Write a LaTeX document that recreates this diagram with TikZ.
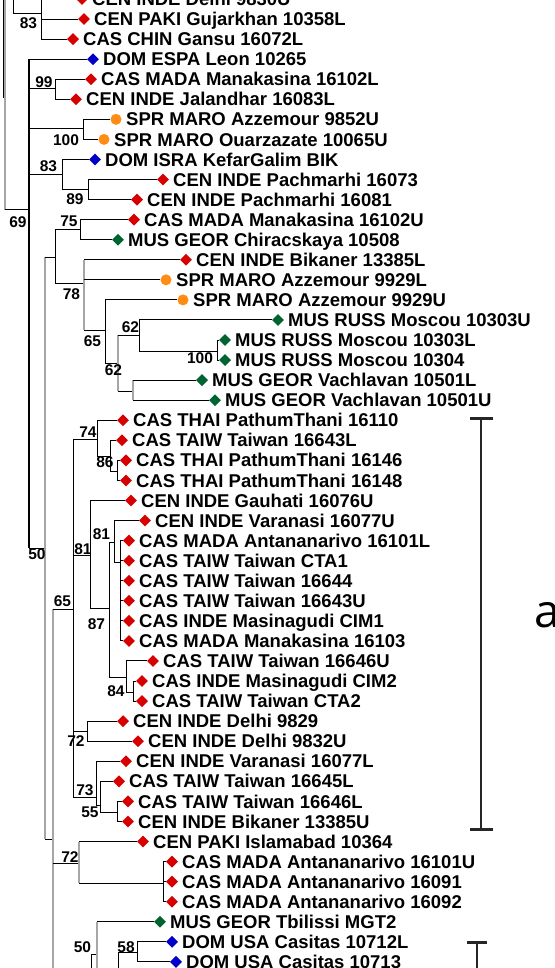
\documentclass[tikz,border=0pt]{standalone}
\usepackage{fontspec}
\setmainfont{Liberation Sans}
\newfontfamily\afont{Open Sans}
\usetikzlibrary{shapes.geometric,calc}
\definecolor{mred}{RGB}{215,0,0}
\definecolor{mgreen}{RGB}{0,100,50}
\definecolor{mblue}{RGB}{0,0,200}
\definecolor{morange}{RGB}{255,140,20}
\begin{document}
\begin{tikzpicture}[x=1pt,y=-1pt,
  br/.style={line width=1pt,black},
  gbr/.style={line width=1.6pt,gray!70},
  rd/.style={diamond,fill=mred,inner sep=0pt,minimum size=12pt},
  gd/.style={diamond,fill=mgreen,inner sep=0pt,minimum size=12pt},
  bd/.style={diamond,fill=mblue,inner sep=0pt,minimum size=12pt},
  oc/.style={circle,fill=morange,inner sep=0pt,minimum size=11pt},
  txt/.style={font=\bfseries\fontsize{18.5}{20}\selectfont,inner sep=0pt,anchor=base west},
  bs/.style={font=\bfseries\fontsize{15.5}{16}\selectfont,inner sep=0pt},
  bracket/.style={line width=2.2pt,black!85}]
\clip (0,0) rectangle (554,968);
\fill[white] (0,0) rectangle (554,968);
% leaves
\foreach \i/\mx/\st/\t in {
0/82/rd/CEN INDE Delhi 9830U,
1/84/rd/CEN PAKI Gujarkhan 10358L,
2/73/rd/CAS CHIN Gansu 16072L,
3/93/bd/DOM ESPA Leon 10265,
4/91/rd/CAS MADA Manakasina 16102L,
5/76/rd/CEN INDE Jalandhar 16083L,
6/116/oc/SPR MARO Azzemour 9852U,
7/104/oc/SPR MARO Ouarzazate 10065U,
8/95/bd/DOM ISRA KefarGalim BIK,
9/163/rd/CEN INDE Pachmarhi 16073,
10/137/rd/CEN INDE Pachmarhi 16081,
11/134/rd/CAS MADA Manakasina 16102U,
12/118/gd/MUS GEOR Chiracskaya 10508,
13/186/rd/CEN INDE Bikaner 13385L,
14/166/oc/SPR MARO Azzemour 9929L,
15/183/oc/SPR MARO Azzemour 9929U,
16/278/gd/MUS RUSS Moscou 10303U,
17/225/gd/MUS RUSS Moscou 10303L,
18/225/gd/MUS RUSS Moscou 10304,
19/202/gd/MUS GEOR Vachlavan 10501L,
20/215/gd/MUS GEOR Vachlavan 10501U,
21/123/rd/CAS THAI PathumThani 16110,
22/122/rd/CAS TAIW Taiwan 16643L,
23/126/rd/CAS THAI PathumThani 16146,
24/126/rd/CAS THAI PathumThani 16148,
25/131/rd/CEN INDE Gauhati 16076U,
26/145/rd/CEN INDE Varanasi 16077U,
27/129/rd/CAS MADA Antananarivo 16101L,
28/129/rd/CAS TAIW Taiwan CTA1,
29/129/rd/CAS TAIW Taiwan 16644,
30/129/rd/CAS TAIW Taiwan 16643U,
31/129/rd/CAS INDE Masinagudi CIM1,
32/129/rd/CAS MADA Manakasina 16103,
33/153/rd/CAS TAIW Taiwan 16646U,
34/142/rd/CAS INDE Masinagudi CIM2,
35/142/rd/CAS TAIW Taiwan CTA2,
36/123/rd/CEN INDE Delhi 9829,
37/138/rd/CEN INDE Delhi 9832U,
38/126/rd/CEN INDE Varanasi 16077L,
39/119/rd/CAS TAIW Taiwan 16645L,
40/128/rd/CAS TAIW Taiwan 16646L,
41/128/rd/CEN INDE Bikaner 13385U,
42/143/rd/CEN PAKI Islamabad 10364,
43/172/rd/CAS MADA Antananarivo 16101U,
44/172/rd/CAS MADA Antananarivo 16091,
45/172/rd/CAS MADA Antananarivo 16092,
46/160/gd/MUS GEOR Tbilissi MGT2,
47/172/bd/DOM USA Casitas 10712L,
48/176/bd/DOM USA Casitas 10713}{
  \node[\st] (M\i) at (\mx,{-1+20.06*\i}) {};
  \node[txt] (T\i) at ($(M\i)+(10,6.6)$) {\t};
}
% internal node coordinates
\coordinate (top) at (0,-20);
\coordinate (bot) at (0,1000);
\coordinate (n3) at (3,98);
\coordinate (n5) at (5,98);
\coordinate (n13) at (13,14);
\coordinate (n41) at (41,14);
\coordinate (n29) at (29,210);
\coordinate (n55) at (55,89);
\coordinate (n83) at (83,129);
\coordinate (n62) at (62,175);
\coordinate (n88) at (88,190);
\coordinate (n45) at (45,548);
\coordinate (n55b) at (55,257);
\coordinate (n80) at (80,230);
\coordinate (n84) at (84,283);
\coordinate (n105) at (105,330);
\coordinate (n118) at (118,363);
\coordinate (n139) at (139,335);
\coordinate (n217) at (217,351);
\coordinate (n133) at (133,391);
\coordinate (n53) at (53,839);
\coordinate (n73) at (73,609);
\coordinate (n97) at (97,439);
\coordinate (n110) at (110,456);
\coordinate (n117) at (117,471);
\coordinate (n90) at (90,555);
\coordinate (n109) at (109,608);
\coordinate (n114) at (114,542);
\coordinate (n120) at (120,562);
\coordinate (n126) at (126,677);
\coordinate (n133b) at (133,692);
\coordinate (n87) at (87,731);
\coordinate (n96) at (96,797);
\coordinate (n100) at (100,805);
\coordinate (n117b) at (117,812);
\coordinate (n79) at (79,863);
\coordinate (n163) at (163,883);
\coordinate (n91) at (91,954);
\coordinate (n97b) at (97,954);
\coordinate (n118b) at (118,952);
\coordinate (n137) at (137,952);
% top part
\draw[br] (n3|-top) -- (n3) -- (n5);
\draw[gbr] (n5|-top) -- (n5|-n29);
\draw[br] (n5|-n29) -- (n29);
\draw[line width=1.5pt] (n29|-M3) -- (n29|-n45);
\draw[br] (n13|-top) -- (n13) -- (n41);
\draw[br] (n41|-top) -- (n41|-M2);
\foreach \k in {0,1,2} \draw[br] (n41|-M\k) -- (M\k.west);
\draw[br] (n29|-M3) -- (M3.west);
\draw[br] (n29|-n55) -- (n55);
\draw[br] (n55|-M4) -- (n55|-M5);
\foreach \k in {4,5} \draw[br] (n55|-M\k) -- (M\k.west);
\draw[br] (n29|-n83) -- (n83);
\draw[br] (n83|-M6) -- (n83|-M7);
\foreach \k in {6,7} \draw[br] (n83|-M\k) -- (M\k.west);
\draw[br] (n29|-n62) -- (n62);
\draw[br] (n62|-M8) -- (n62|-n88);
\draw[br] (n62|-M8) -- (M8.west);
\draw[br] (n62|-n88) -- (n88);
\draw[br] (n88|-M9) -- (n88|-M10);
\foreach \k in {9,10} \draw[br] (n88|-M\k) -- (M\k.west);
% clade 11-20
\draw[br] (n29|-n45) -- (n45);
\draw[gbr] (n45|-n55b) -- (n45|-n53);
\draw[br] (n45|-n55b) -- (n55b);
\draw[br] (n55b|-n80) -- (n55b|-n84);
\draw[br] (n55b|-n80) -- (n80);
\draw[br] (n80|-M11) -- (n80|-M12);
\foreach \k in {11,12} \draw[br] (n80|-M\k) -- (M\k.west);
\draw[br] (n55b|-n84) -- (n84);
\draw[gbr] (n84|-M13) -- (n84|-n105);
\foreach \k in {13,14} \draw[br] (n84|-M\k) -- (M\k.west);
\draw[br] (n84|-n105) -- (n105);
\draw[br] (n105|-M15) -- (n105|-n118);
\draw[br] (n105|-M15) -- (M15.west);
\draw[br] (n105|-n118) -- (n118);
\draw[gbr] (n118|-n139) -- (n118|-n133);
\draw[br] (n118|-n139) -- (n139);
\draw[br] (n139|-M16) -- (n139|-n217);
\draw[br] (n139|-M16) -- (M16.west);
\draw[br] (n139|-n217) -- (n217);
\draw[br] (n217|-M17) -- (n217|-M18);
\foreach \k in {17,18} \draw[br] (n217|-M\k) -- (M\k.west);
\draw[br] (n118|-n133) -- (n133);
\draw[gbr] (n133|-M19) -- (n133|-M20);
\foreach \k in {19,20} \draw[br] (n133|-M\k) -- (M\k.west);
% clade 21-41
\draw[br] (n45|-n53) -- (n53);
\draw[gbr] (n53|-n73) -- (n53|-bot);
\draw[br] (n53|-n73) -- (n73);
\draw[br] (n73|-n97) -- (n73|-n96);
\draw[br] (n73|-n97) -- (n97);
\draw[br] (n97|-M21) -- (n97|-n110);
\draw[br] (n97|-M21) -- (M21.west);
\draw[br] (n97|-n110) -- (n110);
\draw[br] (n110|-M22) -- (n110|-n117);
\draw[br] (n110|-M22) -- (M22.west);
\draw[br] (n110|-n117) -- (n117);
\draw[br] (n117|-M23) -- (n117|-M24);
\foreach \k in {23,24} \draw[br] (n117|-M\k) -- (M\k.west);
\draw[br] (n73|-n90) -- (n90);
\draw[br] (n90|-M25) -- (n90|-n109);
\draw[br] (n90|-M25) -- (M25.west);
\draw[br] (n90|-n109) -- (n109);
\draw[br] (n109|-n114) -- (n109|-n126);
\draw[br] (n109|-n114) -- (n114);
\draw[br] (n114|-M26) -- (n114|-n120);
\draw[br] (n114|-M26) -- (M26.west);
\draw[br] (n114|-n120) -- (n120);
\draw[br] (n120|-M27) -- (n120|-M32);
\foreach \k in {27,...,32} \draw[br] (n120|-M\k) -- (M\k.west);
\draw[br] (n109|-n126) -- (n126);
\draw[br] (n126|-M33) -- (n126|-n133b);
\draw[br] (n126|-M33) -- (M33.west);
\draw[br] (n126|-n133b) -- (n133b);
\draw[br] (n133b|-M34) -- (n133b|-M35);
\foreach \k in {34,35} \draw[br] (n133b|-M\k) -- (M\k.west);
\draw[br] (n73|-n87) -- (n87);
\draw[br] (n87|-M36) -- (n87|-M37);
\foreach \k in {36,37} \draw[br] (n87|-M\k) -- (M\k.west);
\draw[br] (n73|-n96) -- (n96);
\draw[br] (n96|-M38) -- (n96|-n100);
\draw[br] (n96|-M38) -- (M38.west);
\draw[br] (n96|-n100) -- (n100);
\draw[br] (n100|-M39) -- (n100|-n117b);
\draw[br] (n100|-M39) -- (M39.west);
\draw[br] (n100|-n117b) -- (n117b);
\draw[br] (n117b|-M40) -- (n117b|-M41);
\foreach \k in {40,41} \draw[br] (n117b|-M\k) -- (M\k.west);
% clade 42-45
\draw[br] (n53|-n79) -- (n79);
\draw[gbr] (n79|-M42) -- (n79|-n163);
\draw[br] (n79|-M42) -- (M42.west);
\draw[br] (n79|-n163) -- (n163);
\draw[br] (n163|-M43) -- (n163|-M45);
\foreach \k in {43,44,45} \draw[br] (n163|-M\k) -- (M\k.west);
% bottom clade
\draw[br] (n91) -- (n91|-bot);
\draw[br] (n91) -- (n97b);
\draw[gbr] (n97b|-M46) -- (n97b|-bot);
\draw[br] (n97b|-M46) -- (M46.west);
\draw[br] (n118b) -- (n118b|-bot);
\draw[br] (n118b) -- (n137);
\draw[br] (n137|-M47) -- (n137|-M48);
\foreach \k in {47,48} \draw[br] (n137|-M\k) -- (M\k.west);
% bootstrap labels
\node[bs] (b1) at (28.5,23.5) {83};
\node[bs] (b2) at (44,82.5) {99};
\node[bs] (b3) at (66,140) {100};
\node[bs] (b4) at (48.5,166) {83};
\node[bs] (b5) at (75,199) {89};
\node[bs] (b6) at (18,222) {69};
\node[bs] (b7) at (69,221) {75};
\node[bs] (b8) at (71.5,294) {78};
\node[bs] (b9) at (92.5,341) {65};
\node[bs] (b10) at (113.5,370) {62};
\node[bs] (b11) at (130.5,327.5) {62};
\node[bs] (b12) at (200,358) {100};
\node[bs] (b13) at (88,432.5) {74};
\node[bs] (b14) at (105,462.5) {86};
\node[bs] (b15) at (83,549) {81};
\node[bs] (b16) at (101.5,534) {81};
\node[bs] (b17) at (37,554) {50};
\node[bs] (b18) at (62.5,601) {65};
\node[bs] (b19) at (96.5,624) {87};
\node[bs] (b20) at (116,691) {84};
\node[bs] (b21) at (76,741) {72};
\node[bs] (b22) at (85,790) {73};
\node[bs] (b23) at (90,812.5) {55};
\node[bs] (b24) at (70,857.5) {72};
\node[bs] (b25) at (82.5,947.5) {50};
\node[bs] (b26) at (126,947.5) {58};
% brackets
\coordinate (ka) at (481,418);
\coordinate (kb) at (481,829);
\draw[bracket] (ka) -- (kb);
\draw[line width=3pt,black!85] ([xshift=-11pt]ka) -- ([xshift=12pt]ka);
\draw[line width=3pt,black!85] ([xshift=-11pt]kb) -- ([xshift=12pt]kb);
\coordinate (kc) at (477,942);
\draw[bracket] (kc) -- (kc|-bot);
\draw[line width=3pt,black!85] ([xshift=-10pt]kc) -- ([xshift=10pt]kc);
\node[font=\afont\fontsize{46}{50}\selectfont,inner sep=0pt,anchor=base west] (clade) at (534,627) {a};
\end{tikzpicture}
\end{document}
